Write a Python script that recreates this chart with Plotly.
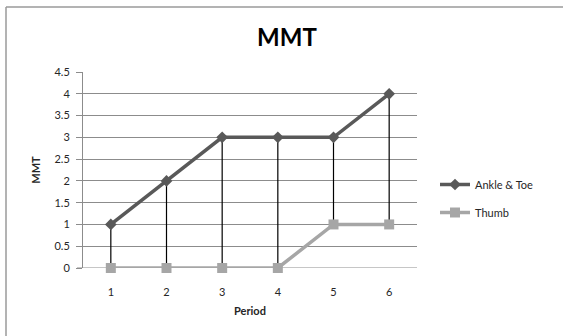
import plotly.graph_objects as go

periods = [1, 2, 3, 4, 5, 6]
ankle_toe = [1, 2, 3, 3, 3, 4]
thumb = [0, 0, 0, 0, 1, 1]
y_ticks = [0, 0.5, 1, 1.5, 2, 2.5, 3, 3.5, 4, 4.5]
y_tick_labels = ["0", "0.5", "1", "1.5", "2", "2.5", "3", "3.5", "4", "4.5"]

FONT = "Lato, Open Sans, sans-serif"
GRID = "#8c8c8c"

# high-low lines between the two series
hl_x, hl_y = [], []
for p, a, t in zip(periods, ankle_toe, thumb):
    hl_x += [p, p, None]
    hl_y += [t, a, None]

fig = go.Figure()
fig.add_trace(go.Scatter(x=hl_x, y=hl_y, mode="lines",
                         line=dict(color="black", width=1.2),
                         showlegend=False, hoverinfo="skip", cliponaxis=False))
fig.add_trace(go.Scatter(x=periods, y=ankle_toe, name="Ankle & Toe", mode="lines+markers",
                         legendgroup="ankle",
                         line=dict(color="#595959", width=3.5), cliponaxis=False,
                         marker=dict(symbol="diamond", size=9, color="#595959")))
fig.add_trace(go.Scatter(x=periods, y=thumb, name="Thumb", mode="lines+markers",
                         legendgroup="thumb",
                         line=dict(color="#a6a6a6", width=3.5), cliponaxis=False,
                         marker=dict(symbol="square", size=10, color="#a6a6a6")))

fig.update_layout(
    width=563, height=336,
    margin=dict(l=83, r=146, t=72, b=68),
    paper_bgcolor="white", plot_bgcolor="white",
    font=dict(family=FONT, size=11, color="#262626"),
    title=dict(text="<b>MMT</b>", x=287/563, xref="container", xanchor="center",
               y=1 - 38/336, yref="container", yanchor="middle",
               font=dict(size=24, color="black", family=FONT)),
    showlegend=True,
    legend=dict(x=(435-83)/334, xanchor="left", y=(268-170)/196, yanchor="top",
                traceorder="grouped", font=dict(size=11, color="#262626"),
                bgcolor="rgba(0,0,0,0)", tracegroupgap=9, itemwidth=30),
    xaxis=dict(range=[0.5, 6.5], tickvals=periods, ticktext=[str(p) for p in periods],
               showgrid=False, zeroline=False, showline=False,
               ticks="outside", ticklen=6, tickcolor="rgba(0,0,0,0)",
               ticklabelstandoff=8,
               title=dict(text="<b>Period</b>", font=dict(size=11, color="#262626"), standoff=10)),
    yaxis=dict(range=[0, 4.5], tickvals=y_ticks, ticktext=y_tick_labels,
               showgrid=True, gridcolor=GRID, gridwidth=1, zeroline=False,
               showline=True, linecolor=GRID, linewidth=1,
               ticks="outside", ticklen=6, tickcolor=GRID,
               ticklabelstandoff=4,
               title=dict(text="<b>MMT</b>", font=dict(size=11, color="#262626"), standoff=11)),
)

# x-axis baseline extended to the tick stubs on the left
fig.add_shape(type="line", xref="paper", yref="y", x0=-6/334, x1=1, y0=0, y1=0,
              line=dict(color=GRID, width=1), layer="below")
# chart border (top and left visible)
fig.add_shape(type="line", xref="paper", yref="paper",
              x0=(6-83)/334, x1=(563-83)/334, y0=(268-7)/196, y1=(268-7)/196,
              line=dict(color="#9a9a9a", width=1.5))
fig.add_shape(type="line", xref="paper", yref="paper",
              x0=(6-83)/334, x1=(6-83)/334, y0=(268-7)/196, y1=(268-340)/196,
              line=dict(color="#9a9a9a", width=1.5))

fig.write_html("out.html", config={"displayModeBar": False},
               post_script="document.body.style.margin='0';document.body.style.overflow='hidden';")
